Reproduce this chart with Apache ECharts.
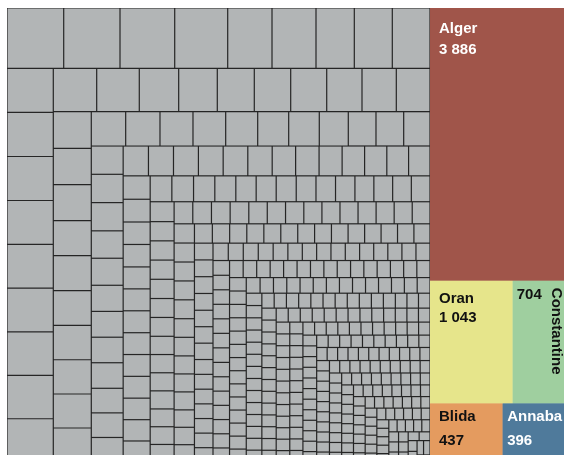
<!DOCTYPE html>
<html>
<head>
<meta charset="utf-8">
<script src="https://cdn.jsdelivr.net/npm/echarts@6/dist/echarts.min.js"></script>
<style>
  html, body { margin: 0; padding: 0; background: #ffffff; }
  #chart { width: 564px; height: 455px; }
</style>
</head>
<body>
<div id="chart"></div>
<script>
// Population in thousands. The five largest cities get their own colour.
const cityNames  = ['Alger', 'Oran', 'Constantine', 'Blida', 'Annaba'];
const cityValues = [3886, 1043, 704, 437, 396];
const cityColors = ['#a0554a', '#e6e58b', '#9fcf9f', '#e49b5f', '#4f7a9b'];
const cityTextColors = ['#ffffff', '#111111', '#111111', '#111111', '#ffffff'];

// Every other city (grey tiles), in thousands, largest first.
const otherValues = [
  351.6, 349.1, 339.2, 328.6, 274.7, 272.8, 237.5, 235.6, 233.8,
  210, 210, 209.5, 209, 208.5, 208, 207, 206.5, 205.8,
  193.7, 190.1, 175.8, 172.3, 165.1, 162.5, 160.7, 157.5, 153.1, 150.4,
  143.0, 142.2, 140.7, 136.8, 136.8, 135.2, 134.4, 134.0, 132.8, 132.8,
  121.3, 121.0, 116.4, 115.3, 112.9, 109.3, 107.9, 102.3, 97.7, 97.7, 92.8,
  92.8, 92.8, 92.5, 89.8, 88.6, 85.6, 84.6, 83.7, 83.7, 80.6, 80.4,
  80.6, 77.7, 76.9, 76.6, 76.0, 75.7, 74.9, 72.0, 72.0, 70.8, 69.1, 68.2,
  66.9, 65.8, 65.0, 63.2, 62.4, 62.4, 60.9, 60.9, 60.6, 60.6, 60.6, 59.8,
  61.0, 59.2, 58.4, 57.7, 57.7, 56.6, 55.9, 54.1, 53.3, 53.3, 52.6, 51.6, 50.0,
  52.0, 50.4, 49.7, 49.7, 49.0, 47.3, 47.3, 47.3, 47.3, 46.6, 46.4, 44.9, 44.9,
  44.5, 44.5, 43.8, 43.6, 43.2, 42.4, 42.4, 42.4, 42.4, 41.5, 41.5, 41.1, 39.6,
  41.9, 41.0, 41.0, 41.0, 41.0, 41.0, 40.4, 40.2, 39.7, 39.5, 39.5, 38.9, 38.9,
  37.7, 37.6, 37.6, 36.4, 36.4, 36.2, 35.6, 34.4, 34.1, 33.7, 33.7, 33.5, 33.5, 32.9,
  33.9, 33.1, 32.7, 32.7, 32.6, 32.0, 32.0, 32.0, 32.0, 32.0, 31.4, 31.4, 31.2,
  28.3, 28.3, 28.0, 28.0, 27.8, 27.8, 27.3, 27.3, 26.8, 26.8, 26.6, 25.6, 25.6, 25.1,
  26.3, 25.8, 25.6, 25.6, 25.2, 25.2, 25.2, 24.7, 24.7, 24.5, 24.1, 23.6, 23.1,
  25.1, 25.1, 24.7, 24.7, 24.7, 24.7, 24.4, 24.2, 24.2, 24.2, 23.9, 23.6, 23.3,
  23.9, 23.7, 23.6, 23.5, 23.5, 23.4, 23.4, 23.3, 23.3, 23.2, 23.1, 23.1, 23.0,
  23.0, 22.9, 22.8, 22.7, 22.6, 22.6, 22.5, 22.5, 22.4, 22.4, 22.3, 22.2, 22.2,
  21.5, 21.4, 21.3, 21.2, 21.1, 21.0, 21.0, 20.9, 20.9, 20.8, 20.7, 20.6, 20.6,
  19.8, 19.7, 19.6, 19.5, 19.4, 19.4, 19.4, 19.3, 19.3, 19.2, 19.1, 19.1, 19.0,
  19.0, 18.9, 18.8, 18.8, 18.7, 18.7, 18.6, 18.6, 18.5, 18.5, 18.4, 18.4,
  17.8, 17.7, 17.7, 17.6, 17.6, 17.5, 17.5, 17.5, 17.4, 17.4, 17.4, 17.3, 17.3,
  17.5, 17.4, 17.4, 17.3, 17.3, 17.2, 17.2, 17.2, 17.1, 17.1, 17.0, 17.0,
  16.8, 16.7, 16.6, 16.6, 16.5, 16.5, 16.5, 16.5, 16.4, 16.4, 16.4, 16.3,
  16.1, 16.0, 15.9, 15.8, 15.8, 15.8, 15.7, 15.6, 15.6, 15.5, 15.5,
  16.0, 15.9, 15.9, 15.8, 15.8, 15.7, 15.7, 15.6, 15.6, 15.5, 15.5,
  15.5, 15.4, 15.4, 15.3, 15.3, 15.2, 15.2, 15.1, 15.1, 15.0,
  15.0, 14.9, 14.9, 14.8, 14.8, 14.7, 14.7, 14.6, 14.6, 14.5,
  14.5, 14.4, 14.4, 14.3, 14.3, 14.2, 14.2, 14.1, 14.1,
  14.0, 14.0, 13.9, 13.9, 13.8, 13.8, 13.7, 13.7, 13.6,
  13.6, 13.5, 13.5, 13.4, 13.4, 13.3, 13.3, 13.2,
  13.2, 13.1, 13.1, 13.0, 13.0, 12.9, 12.9, 12.8,
  12.8, 12.7, 12.7, 12.6, 12.6, 12.5, 12.5,
  12.5, 12.4, 12.4, 12.3, 12.3, 12.2, 12.2,
  12.2, 12.1, 12.1, 12.0, 12.0, 11.9, 11.9,
  11.9, 11.8, 11.8, 11.8, 11.7, 11.7, 11.7,
  11.6, 11.6, 11.6, 11.5, 11.5, 11.5,
  11.5, 11.4, 11.4, 11.4, 11.3, 11.3,
  11.3, 11.2, 11.2, 11.2, 11.1, 11.1,
  11.1, 11.0, 11.0, 11.0, 10.9,
  10.9, 10.9, 10.8, 10.8, 10.8,
  10.7, 10.7, 10.7, 10.6,
  10.6, 10.6, 10.5, 10.5,
  10.5, 10.4, 10.4, 10.4,
  10.3, 10.3, 10.3,
  10.2, 10.2, 10.2,
  10.1, 10.1, 10.0,
  10.0, 10.0, 9.9, 9.9, 9.8, 9.8,
  9.7, 9.6, 9.5, 9.4
];

// Label placement inside each coloured tile (px from the tile's top-left corner)
const cityLabelPos = [[9, 10], [9, 9], [4, 4.5], [9, 2], [4.5, 2]];
const cityLineHeights = [21, 19, 20, 23.3, 23.3];
// Constantine's tile is narrow: its number sits top-left, its name runs down the right edge
const nameRunsVertically = [false, false, true, false, false];

const GREY = '#b2b5b6';
const LINE = '#262626';
const FONT = '"Liberation Sans", Arial, Helvetica, sans-serif';

function formatThousands(v) {
  return String(Math.round(v)).replace(/\B(?=(\d{3})+(?!\d))/g, ' ');
}

function baseLabel(extra) {
  return Object.assign({
    show: true,
    align: 'left',
    verticalAlign: 'top',
    padding: 0,
    distance: 0,
    overflow: 'none',
    fontFamily: FONT,
    fontWeight: 'bold',
    fontSize: 15
  }, extra);
}

// Same tree for both layers so that the layouts coincide; the second layer only
// carries the vertical city name.
function buildData(overlay) {
  const clear = 'rgba(0,0,0,0)';
  const grey = {
    name: 'Autres villes',
    itemStyle: { color: overlay ? clear : GREY, borderColor: overlay ? clear : LINE },
    label: { show: false },
    children: otherValues.map(function (v) {
      return { value: v, label: { show: false } };
    })
  };
  const cities = cityNames.map(function (name, i) {
    let label;
    if (!overlay) {
      const text = nameRunsVertically[i]
        ? formatThousands(cityValues[i])
        : name + '\n' + formatThousands(cityValues[i]);
      label = baseLabel({
        position: cityLabelPos[i],
        lineHeight: cityLineHeights[i],
        color: cityTextColors[i],
        formatter: text
      });
    } else if (nameRunsVertically[i]) {
      label = baseLabel({
        position: ['100%', 7],
        rotate: -90,
        lineHeight: 24,
        color: cityTextColors[i],
        formatter: name
      });
    } else {
      label = { show: false };
    }
    return {
      name: name,
      value: cityValues[i],
      itemStyle: {
        color: overlay ? clear : cityColors[i],
        borderColor: overlay ? clear : cityColors[i]
      },
      label: label
    };
  });
  return [grey].concat(cities);
}

function buildSeries(overlay) {
  return {
    type: 'treemap',
    left: 7,
    top: 8,
    width: 561.5,
    height: 454,
    roam: false,
    nodeClick: false,
    silent: true,
    animation: false,
    squareRatio: 1.2,
    breadcrumb: { show: false },
    label: { show: false },
    upperLabel: { show: false },
    emphasis: { disabled: true },
    levels: [
      { itemStyle: { borderWidth: 0, gapWidth: 0, borderColor: 'rgba(0,0,0,0)' } },
      { itemStyle: { borderWidth: 0, gapWidth: 0 } },
      {
        itemStyle: {
          borderWidth: 0.6,
          gapWidth: 0,
          borderColor: overlay ? 'rgba(0,0,0,0)' : LINE,
          color: overlay ? 'rgba(0,0,0,0)' : GREY
        },
        label: { show: false }
      }
    ],
    data: buildData(overlay)
  };
}

const chart = echarts.init(document.getElementById('chart'), null, { renderer: 'canvas' });
chart.setOption({
  animation: false,
  tooltip: { show: false },
  series: [buildSeries(false), buildSeries(true)]
});
</script>
</body>
</html>
